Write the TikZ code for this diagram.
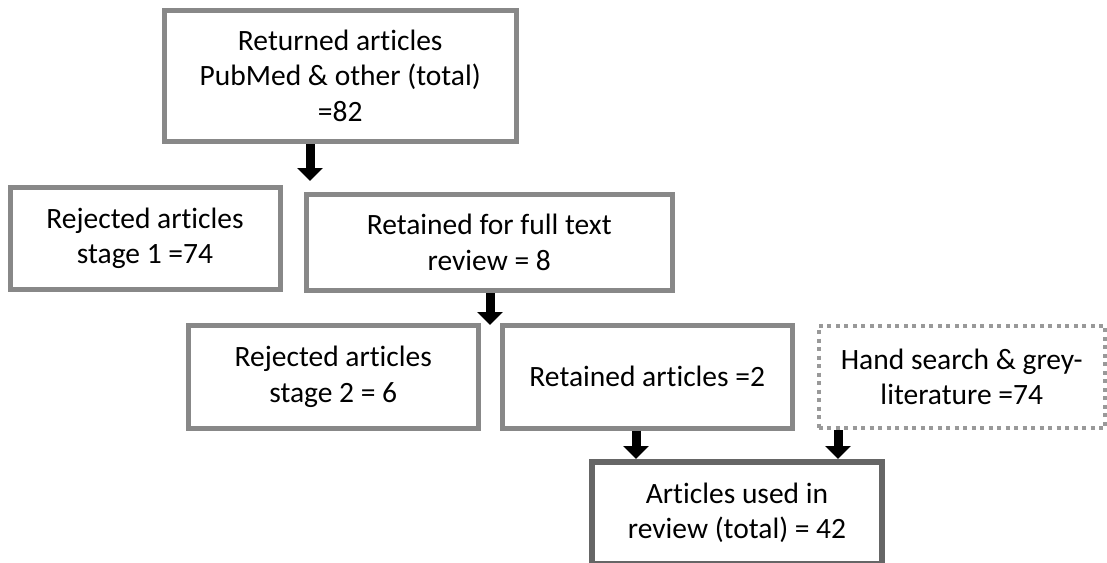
\documentclass[tikz,border=0pt]{standalone}
\usepackage{fontspec}
\setmainfont[Ligatures={NoCommon}]{Carlito}
\usetikzlibrary{arrows.meta,calc}
\definecolor{boxgray}{HTML}{888888}
\definecolor{darkgray6}{HTML}{666666}
\definecolor{dotgray}{HTML}{999999}
\begin{document}
\begin{tikzpicture}[x=1pt,y=-1pt,
  every node/.style={font=\fontsize{29.5}{35.5}\selectfont, align=center, inner sep=0pt},
  flowbox/.style={draw=boxgray, line width=5pt, fill=white},
  finalbox/.style={draw=darkgray6, line width=6pt, fill=white},
  dotbox/.style={draw=dotgray, line width=4pt, dash pattern=on 4pt off 4.5pt, fill=white},
  blockarrow/.style={line width=9pt, draw=black, -{Triangle[width=25pt,length=13pt]}, shorten >=0pt}
]
\useasboundingbox (0,0) rectangle (1107,562);
\node[flowbox, minimum width=351.5pt, minimum height=131.5pt] (b1) at (340.25,75.75)
  {Returned articles\\PubMed \& other (total)\\=82};
\node[flowbox, minimum width=270pt, minimum height=101.5pt] (b2) at (145,238.25)
  {Rejected articles\\stage 1 =74};
\node[flowbox, minimum width=366pt, minimum height=96pt] (b3) at (489.25,242.5)
  {Retained for full text\\review = 8};
\node[flowbox, minimum width=290.5pt, minimum height=102.5pt] (b4) at (333.25,376.75)
  {Rejected articles\\stage 2 = 6};
\node[flowbox, minimum width=289.5pt, minimum height=102.5pt] (b5) at (647.25,376.75)
  {Retained articles =2};
\node[dotbox, minimum width=286.5pt, minimum height=102.5pt] (b7) at (961.75,376.75)
  {Hand search \& grey-\\literature =74};
\node[finalbox, minimum width=290pt, minimum height=102pt] (b6) at (737,513)
  {Articles used in\\review (total) = 42};
\coordinate (t1) at (310,181);
\coordinate (t2) at (490,325);
\draw[blockarrow] (b1.south -| t1) -- (t1);
\draw[blockarrow] (b3.south -| t2) -- (t2);
\draw[blockarrow] (b5.south -| 636,0) -- (b6.north -| 636,0);
\draw[blockarrow] (b7.south -| 838,0) -- (b6.north -| 838,0);
\end{tikzpicture}
\end{document}
